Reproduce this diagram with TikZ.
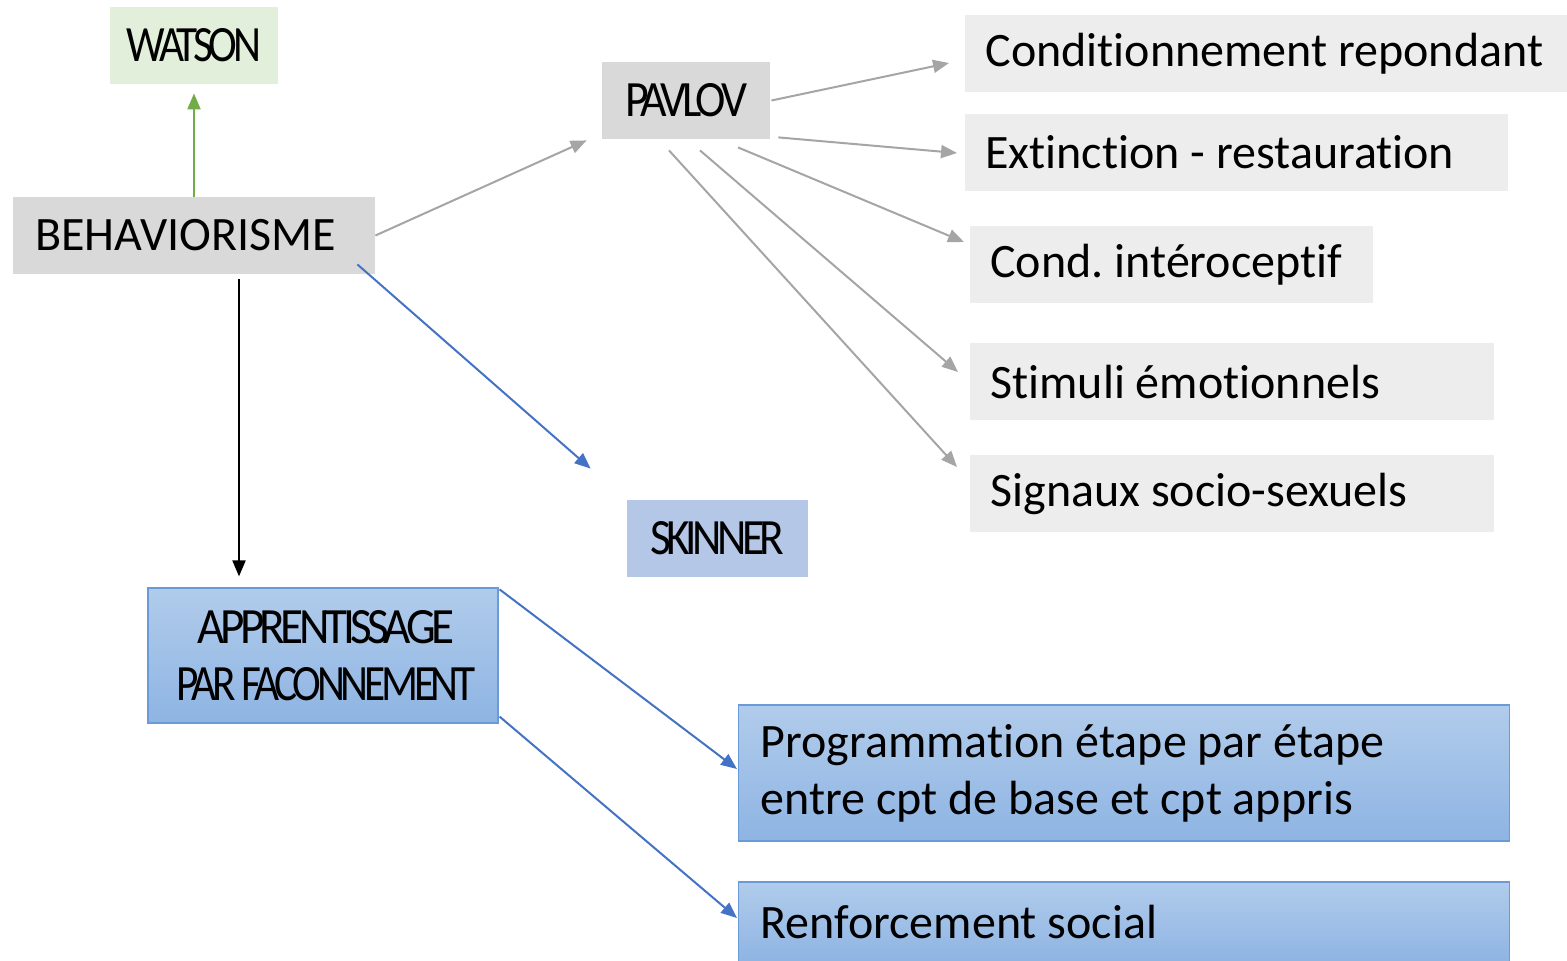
\documentclass[tikz,border=0pt]{standalone}
\usepackage{graphicx}
\usepackage{fontspec}
\setmainfont[RawFeature=-liga]{Carlito}
\newfontfamily\condfont[LetterSpace=-10,RawFeature=-liga]{Carlito}
\usetikzlibrary{arrows.meta,calc}
\frenchspacing
\definecolor{boxgray}{HTML}{D9D9D9}
\definecolor{lightgray}{HTML}{EDEDED}
\definecolor{boxgreen}{HTML}{E2EFDA}
\definecolor{boxblue}{HTML}{B4C7E7}
\definecolor{gradtop}{HTML}{B1CCEB}
\definecolor{gradbot}{HTML}{8EB4E3}
\definecolor{bordblue}{HTML}{6A9BD8}
\definecolor{arrgray}{HTML}{A5A5A5}
\definecolor{arrblue}{HTML}{4472C4}
\definecolor{arrgreen}{HTML}{70AD47}
\newcommand{\cnd}[2]{\resizebox{#1}{16.5pt}{\condfont #2}}
\tikzset{
  basefont/.style={font=\fontsize{24}{28.5}\selectfont},
  titlebox/.style={basefont, minimum width=#1, minimum height=38.5pt, inner sep=0pt, align=center},
  rbox/.style={basefont, fill=lightgray, anchor=west, minimum height=38.5pt, inner ysep=0pt, inner xsep=10pt, text width=#1, align=flush left},
  gradbox/.style={basefont, top color=gradtop, bottom color=gradbot, draw=bordblue, line width=0.6pt, anchor=west, inner ysep=0pt, inner xsep=11pt, text width=363.5pt, align=flush left},
  tip/.style={-{Triangle[length=8pt,width=6.5pt]}},
  garrow/.style={tip, draw=arrgray, fill=arrgray, line width=1pt},
  barrow/.style={tip, draw=arrblue, fill=arrblue, line width=1pt},
}
\begin{document}
\begin{tikzpicture}[x=0.5pt,y=-0.5pt]
\useasboundingbox (0,0) rectangle (1567,960);
% title boxes
\node[titlebox=84pt, fill=boxgreen] (wat) at (194,45.5) {\cnd{67pt}{WATSON}};
\node[basefont, fill=boxgray, minimum width=181pt, minimum height=38.5pt, inner ysep=0pt, inner xsep=11pt, text width=159pt, align=flush left] (beh) at (194,235.5) {BEHAVIORISME};
\node[titlebox=84pt, fill=boxgray] (pav) at (686,100.5) {\cnd{61pt}{PAVLOV}};
\node[titlebox=90.5pt, fill=boxblue] (ski) at (717.5,538.5) {\cnd{67pt}{SKINNER}};
\node[basefont, top color=gradtop, bottom color=gradbot, draw=bordblue, line width=0.6pt, minimum width=175pt, minimum height=67.5pt, inner sep=0pt, align=center] (app) at (323,655.5) {\hspace*{3pt}\cnd{128pt}{APPRENTISSAGE}\\\hspace*{3pt}\cnd{149.5pt}{PAR FACONNEMENT}};
% right boxes
\node[rbox=281pt] (c1) at (965,53.5) {Conditionnement repondant};
\node[rbox=251.5pt] (c2) at (965,152.5) {Extinction - restauration};
\node[rbox=181.5pt] (c3) at (970,264.5) {Cond. intéroceptif};
\node[rbox=242pt] (c4) at (970,381.5) {Stimuli émotionnels};
\node[rbox=242pt] (c5) at (970,493.5) {Signaux socio-sexuels};
\node[gradbox, minimum height=68pt] (pr) at (738,773) {Programmation étape par étape\\entre cpt de base et cpt appris};
\node[gradbox, minimum height=40pt] (rf) at (738,922) {Renforcement social};
% connectors
\draw[tip, draw=arrgreen, fill=arrgreen, line width=1pt, shorten >=4.5pt] (beh.north) -- (wat.south);
\draw[tip, draw=black, fill=black, line width=1pt] ($(beh.south)+(45,5)$) -- ($(app.north)+(-84,-11)$);
\draw[garrow] (beh.east) -- ($(pav.south west)+(-15,1)$);
\draw[barrow] ($(beh.south east)+(-18,-10)$) -- ($(ski.north west)+(-36,-31)$);
\draw[garrow] ($(pav.east)+(1,0)$) -- ($(c1.west)+(-16,9.5)$);
\draw[garrow] ($(pav.south east)+(8,-2)$) -- ($(c2.west)+(-8,0.5)$);
\draw[garrow] ($(pav.south)+(52,8)$) -- ($(c3.west)+(-6,-22.5)$);
\draw[garrow] ($(pav.south)+(14,11)$) -- ($(c4.west)+(-12,-9.5)$);
\draw[garrow] ($(pav.south)+(-17,11)$) -- ($(c5.west)+(-13,-26.5)$);
\draw[barrow] ($(app.north east)+(1,2)$) -- ($(pr.west)+(-1,-4)$);
\draw[barrow] ($(app.south east)+(1,-7)$) -- ($(rf.west)+(-1,-4)$);
\end{tikzpicture}
\end{document}
